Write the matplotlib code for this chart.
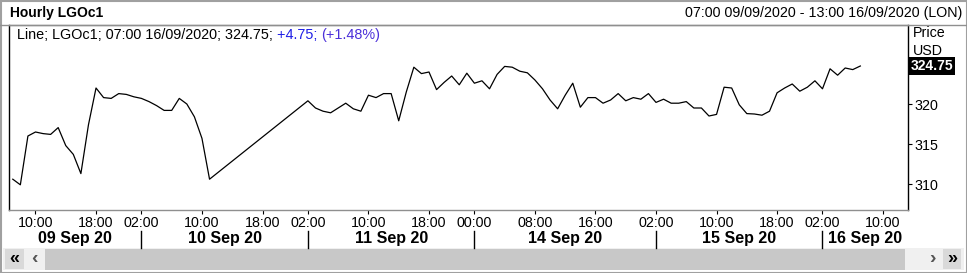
import numpy as np
import matplotlib
matplotlib.use("Agg")
import matplotlib.pyplot as plt
from matplotlib.patches import Rectangle
from matplotlib import transforms

plt.rcParams["font.family"] = ["Liberation Sans", "DejaVu Sans"]

W, H = 967, 273

# --- hourly LGOc1 closes (London time), one list per trading day ---
day_labels   = ["09 Sep 20", "10 Sep 20", "11 Sep 20", "14 Sep 20", "15 Sep 20", "16 Sep 20"]
session_open = [2, 2, 2, 0, 2, 2]       # first bar of a full session
first_hour   = [7, 2, 2, 0, 2, 2]       # first bar on the chart
last_hour    = [23, 23, 23, 23, 23, 13]

nan = np.nan
prices_0909 = [310.6, 309.9, 316.0, 316.5, 316.3, 316.2, 317.05, 314.8, 313.7,
               311.3, 317.4, 322.0, 320.8, 320.7, 321.3, 321.2, 320.9]
prices_1009 = [320.7, 320.3, 319.8, 319.2, 319.2, 320.7, 320.0, 318.4, 315.7,
               310.6, nan, nan, nan, nan, nan, nan, nan, nan, nan, nan, nan, nan]
prices_1109 = [320.4, 319.5, 319.1, 318.9, 319.5, 320.1, 319.4, 319.1, 321.1,
               320.8, 321.3, 321.3, 317.9, 321.5, 324.6, 323.8, 324.0, 321.8,
               322.7, 323.5, 322.4, 323.85]
prices_1409 = [322.6, 322.9, 321.9, 323.7, 324.7, 324.6, 324.1, 323.9, 323.0,
               321.9, 320.5, 319.4, 321.1, 322.6, 319.6, 320.8, 320.8, 320.1,
               320.5, 321.3, 320.4, 320.8, 320.6, 321.3]
prices_1509 = [320.2, 320.6, 320.1, 320.1, 320.3, 319.5, 319.5, 318.5, 318.7,
               322.1, 322.0, 319.9, 318.8, 318.75, 318.6, 319.1, 321.4, 322.0,
               322.5, 321.6, 322.1, 322.9]
prices_1609 = [321.9, 324.4, 323.6, 324.5, 324.3, 324.75]
prices_by_day = [prices_0909, prices_1009, prices_1109, prices_1409, prices_1509, prices_1609]
prev_close = 320.0


def fx(px):
    return px / W


def fy(py):
    return 1 - py / H


def rect(fig, x0, y0, x1, y1, color):
    fig.add_artist(Rectangle((fx(x0), fy(y1)), fx(x1) - fx(x0), fy(y0) - fy(y1),
                             transform=fig.transFigure, fc=color, ec="none", zorder=0))


# --- compressed trading-hour axis: one slot per bar ---
bar_hour, bar_day, bar_price = [], [], []
for d, (h0, h1, vals) in enumerate(zip(first_hour, last_hour, prices_by_day)):
    for k, h in enumerate(range(h0, h1 + 1)):
        bar_hour.append(h)
        bar_day.append(d)
        bar_price.append(vals[k] if k < len(vals) else nan)
x = np.arange(len(bar_hour))
price = np.array(bar_price)
has = ~np.isnan(price)
last = price[has][-1]

fig = plt.figure(figsize=(W / 100, H / 100), dpi=100)
fig.patch.set_facecolor("white")

ax = fig.add_axes([fx(9), fy(210), fx(908) - fx(9), fy(25) - fy(210)])
ax.plot(x[has], price[has], color="black", lw=0.9)
ax.set_xlim(-0.5, 118.3)
ax.set_ylim(306.75, 329.875)

for side in ["left", "right"]:
    ax.spines[side].set_color("black")
for side in ["top", "bottom"]:
    ax.spines[side].set_color("#8f8f8f")
for s in ax.spines.values():
    s.set_linewidth(1.0)

ax.yaxis.tick_right()
ax.set_yticks([310, 315, 320])
ax.tick_params(axis="y", direction="out", length=3, pad=2, labelsize=10.3)

tick_idx = [i for i in x if (bar_hour[i] - session_open[bar_day[i]]) % 8 == 0]
ax.set_xticks(tick_idx)
ax.set_xticklabels([f"{bar_hour[i]:02d}:00" for i in tick_idx])
ax.tick_params(axis="x", direction="out", length=3, pad=1.5, labelsize=10.3)

# day bands under the hour labels
xfig = transforms.blended_transform_factory(ax.transData, fig.transFigure)
day_start = [bar_day.index(d) for d in range(len(day_labels))]
edges = [ax.get_xlim()[0]] + day_start[1:] + [ax.get_xlim()[1]]
for d, lab in enumerate(day_labels):
    ax.text((edges[d] + edges[d + 1]) / 2, fy(239), lab, transform=xfig,
            ha="center", va="center", fontsize=11.5, weight="bold")
for s in day_start[1:]:
    ax.plot([s, s], [fy(231), fy(248)], transform=xfig, color="black",
            lw=1.0, clip_on=False)

# last price tag and axis caption
yfix = transforms.blended_transform_factory(ax.transAxes, ax.transData)
ax.text(1.003, last, f"{last:.2f}", transform=yfix, ha="left", va="center",
        color="white", weight="bold", fontsize=10,
        bbox=dict(fc="black", ec="none", pad=1.2))
fig.text(fx(913), fy(33), "Price", fontsize=10.3, va="center")
fig.text(fx(913), fy(51), "USD", fontsize=10.3, va="center")

# header
fig.text(fx(10), fy(13), "Hourly LGOc1", fontsize=10, weight="bold", va="center")
fig.text(fx(962), fy(13), "07:00 09/09/2020 - 13:00 16/09/2020 (LON)",
         fontsize=10.3, ha="right", va="center")
fig.add_artist(plt.Line2D([0, 1], [fy(25), fy(25)], transform=fig.transFigure,
                          color="#8f8f8f", lw=1.0))

# legend line, black then blue pieces
chg = last - prev_close
pieces = [(f"Line; LGOc1; 07:00 16/09/2020; {last:.2f}; ", "black"),
          (f"{chg:+.2f}; ", "#1f1fe6"),
          (f"({chg / prev_close * 100:+.2f}%)", "#4b2fd9")]
renderer = fig.canvas.get_renderer()
xpos = fx(17)
for txt, col in pieces:
    t = fig.text(xpos, fy(35), txt, fontsize=10.4, color=col, va="center")
    bb = t.get_window_extent(renderer)
    xpos = bb.x1 / W

# scrollbar strip
rect(fig, 3, 248, 964, 270, "#f0f0f0")
rect(fig, 45, 249, 905, 270, "#c8c8c8")
rect(fig, 5, 249, 24, 269, "#d9d9d9")
rect(fig, 943, 249, 961, 269, "#d9d9d9")
fig.text(fx(14), fy(259), "«", fontsize=13, weight="bold", ha="center", va="center")
fig.text(fx(34), fy(259), "‹", fontsize=14, color="#555555", weight="bold",
         ha="center", va="center")
fig.text(fx(932), fy(259), "›", fontsize=14, color="#555555", weight="bold",
         ha="center", va="center")
fig.text(fx(952), fy(259), "»", fontsize=13, weight="bold", ha="center", va="center")

# outer frame
fig.add_artist(Rectangle((0.5 / W, 0.5 / H), 1 - 1 / W, 1 - 1 / H,
                         transform=fig.transFigure, fc="none", ec="#a0a0a0", lw=1.5))

fig.savefig("out.png", dpi=100)
